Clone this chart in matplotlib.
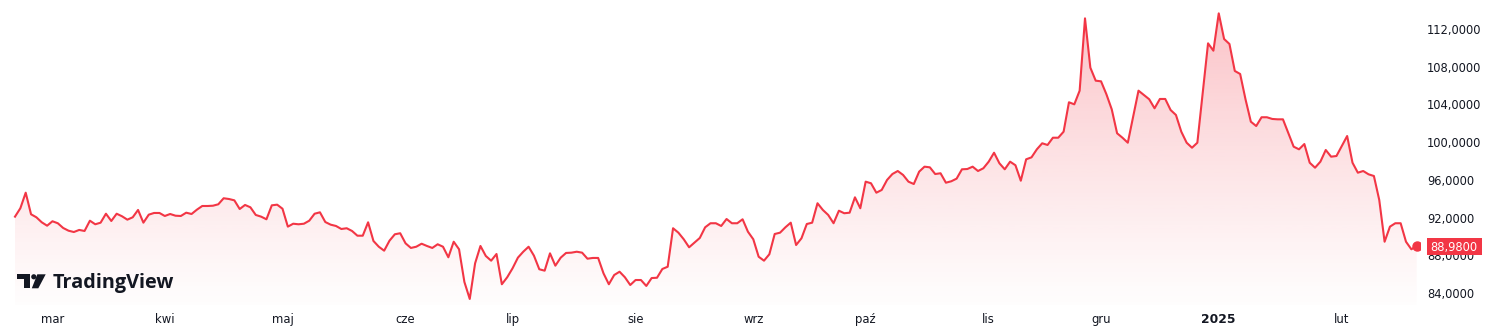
import numpy as np
import pandas as pd
import matplotlib
matplotlib.use("Agg")
import matplotlib.pyplot as plt
from matplotlib.patches import Polygon, Rectangle

# ---------------- data ----------------
start_date = "2024-02-21"
values = [
    92.10, 92.99, 94.64, 92.35, 92.03, 91.50, 91.14, 91.61, 91.40, 90.90,
    90.61, 90.47, 90.69, 90.58, 91.67, 91.29, 91.46, 92.41, 91.64, 92.41,
    92.14, 91.78, 92.03, 92.81, 91.46, 92.31, 92.49, 92.49, 92.17, 92.38,
    92.20, 92.17, 92.52, 92.38, 92.84, 93.23, 93.23, 93.26, 93.41, 94.05,
    93.97, 93.83, 92.91, 93.34, 93.09, 92.28, 92.10, 91.82, 93.30, 93.37,
    92.94, 91.04, 91.35, 91.29, 91.35, 91.67, 92.41, 92.56, 91.53, 91.25,
    91.11, 90.79, 90.87, 90.58, 90.08, 90.08, 91.50, 89.52, 88.91, 88.49,
    89.55, 90.23, 90.34, 89.27, 88.78, 88.91, 89.23, 88.99, 88.78, 89.17,
    88.91, 87.79, 89.44, 88.64, 85.17, 83.37, 87.15, 88.99, 87.93, 87.43,
    88.14, 84.93, 85.67, 86.62, 87.75, 88.38, 88.91, 87.96, 86.52, 86.37,
    88.21, 86.90, 87.75, 88.25, 88.28, 88.38, 88.28, 87.64, 87.72, 87.72,
    86.09, 84.93, 85.91, 86.26, 85.67, 84.85, 85.38, 85.38, 84.75, 85.59,
    85.62, 86.55, 86.79, 90.87, 90.40, 89.70, 88.85, 89.34, 89.84, 90.97,
    91.40, 91.40, 91.11, 91.85, 91.40, 91.40, 91.82, 90.50, 89.70, 87.85,
    87.43, 88.11, 90.26, 90.40, 90.97, 91.46, 89.09, 89.80, 91.32, 91.46,
    93.52, 92.81, 92.28, 91.40, 92.73, 92.46, 92.52, 94.15, 92.99, 95.81,
    95.64, 94.64, 94.93, 95.99, 96.62, 96.94, 96.52, 95.81, 95.56, 96.87,
    97.40, 97.33, 96.62, 96.70, 95.70, 95.85, 96.13, 97.12, 97.15, 97.40,
    96.94, 97.23, 97.93, 98.88, 97.76, 97.12, 97.93, 97.55, 95.91, 98.18,
    98.39, 99.24, 99.88, 99.70, 100.47, 100.47, 101.11, 104.23, 104.01, 105.46,
    113.13, 107.90, 106.52, 106.45, 105.08, 103.48, 100.94, 100.47, 99.94, 102.70,
    105.46, 105.00, 104.55, 103.59, 104.58, 104.58, 103.41, 102.88, 101.11, 99.94,
    99.41, 99.94, 105.21, 110.48, 109.70, 113.66, 110.94, 110.41, 107.55, 107.23,
    104.55, 102.17, 101.71, 102.64, 102.64, 102.46, 102.42, 102.42, 100.97, 99.52,
    99.24, 99.80, 97.82, 97.29, 97.93, 99.17, 98.46, 98.53, 99.59, 100.65,
    97.82, 96.76, 96.94, 96.59, 96.41, 93.87, 89.44, 91.04, 91.40, 91.40,
    89.44, 88.64, 88.98,
]
month_names = {1: "sty", 2: "lut", 3: "mar", 4: "kwi", 5: "maj", 6: "cze",
               7: "lip", 8: "sie", 9: "wrz", 10: "paź", 11: "lis", 12: "gru"}
y_ticks = [84, 88, 92, 96, 100, 104, 108, 112]
brand_text = "TradingView"

# ---------------- styling ----------------
RED = "#F23645"
TXT = "#131722"
W, H = 1493, 330

dates = pd.bdate_range(start_date, periods=len(values))
idx = np.arange(len(values))
vals = np.array(values)

fig = plt.figure(figsize=(W / 100, H / 100), dpi=100)
fig.patch.set_facecolor("white")
ax = fig.add_axes([0, 25 / H, 1420 / W, 305 / H])
ax.set_facecolor("white")

bar_px = 5.35
x0 = -15 / bar_px
x1 = (1420 - 15) / bar_px
ylo, yhi = 82.73, 115.075
ax.set_xlim(x0, x1)
ax.set_ylim(ylo, yhi)

# gradient fill clipped to area under the line
n = 256
g = np.linspace(0, 1, n).reshape(-1, 1)
rgb = matplotlib.colors.to_rgb(RED)
img = np.zeros((n, 1, 4))
img[..., 0], img[..., 1], img[..., 2] = rgb
img[..., 3] = 0.01 + 0.30 * g[:, 0:1] ** 1.1
verts = [(idx[0], ylo)] + list(zip(idx, vals)) + [(idx[-1], ylo)]
clip = Polygon(verts, closed=True, facecolor="none", edgecolor="none")
ax.add_patch(clip)
im = ax.imshow(img, extent=[x0, x1, ylo, yhi], origin="lower", aspect="auto",
               interpolation="bilinear", zorder=1)
im.set_clip_path(clip)

ax.plot(idx, vals, color=RED, lw=1.5, zorder=3, solid_joinstyle="round")
ax.plot(idx[-1], vals[-1], "o", ms=6.5, color=RED, zorder=4)

# axes cosmetics
for s in ax.spines.values():
    s.set_visible(False)
ax.yaxis.tick_right()
ax.set_yticks(y_ticks)
ax.set_yticklabels([f"{t:.4f}".replace(".", ",") for t in y_ticks])
ax.tick_params(axis="y", length=0, pad=5, labelsize=8.3, labelcolor=TXT)

month_idx = [i for i in range(1, len(dates)) if dates[i].month != dates[i - 1].month]
labels = [str(dates[i].year) if dates[i].month == 1 else month_names[dates[i].month]
          for i in month_idx]
ax.set_xticks(month_idx)
ax.set_xticklabels(labels)
ax.tick_params(axis="x", length=0, pad=5.5, labelsize=8.4, labelcolor=TXT)
for lab, i in zip(ax.get_xticklabels(), month_idx):
    if dates[i].month == 1:
        lab.set_fontweight("bold")
        lab.set_fontsize(8.8)

# last price tag (covers part of the 88,0000 label, as in the original)
fig.canvas.draw()
ypix = ax.transData.transform((0, vals[-1]))[1]
bx0, bw, bh = 1426.7, 55, 17
fig.add_artist(Rectangle((bx0 / W, (ypix - bh / 2) / H), bw / W, bh / H,
                         transform=fig.transFigure, facecolor=RED,
                         edgecolor="none", zorder=5))
fig.text((bx0 + bw / 2) / W, ypix / H, f"{vals[-1]:.4f}".replace(".", ","),
         color="white", fontsize=8.3, ha="center", va="center_baseline", zorder=6)

# TradingView logo (decorative)
def P(x, y):
    return (x / W, (H - y) / H)

logo_kw = dict(transform=fig.transFigure, facecolor=TXT, edgecolor="none", zorder=6)
fig.add_artist(Polygon([P(16.7, 274.3), P(30, 274.3), P(30, 288.3), P(24, 288.3),
                        P(24, 279.2), P(16.7, 279.2)], closed=True, **logo_kw))
fig.add_artist(Polygon([P(37.3, 274.3), P(45.7, 274.3), P(38.3, 288.3), P(31.8, 288.3)],
                       closed=True, **logo_kw))
cx, cy = P(33.8, 276.8)
fig.add_artist(matplotlib.patches.Ellipse((cx, cy), 5.2 / W, 5.2 / H, **logo_kw))
fig.text(53 / W, (H - 288.3) / H, brand_text, fontsize=14.3, fontweight="bold",
         family="Open Sans", color=TXT, ha="left", va="baseline", zorder=6)

fig.savefig("out.png", dpi=100, facecolor="white")
